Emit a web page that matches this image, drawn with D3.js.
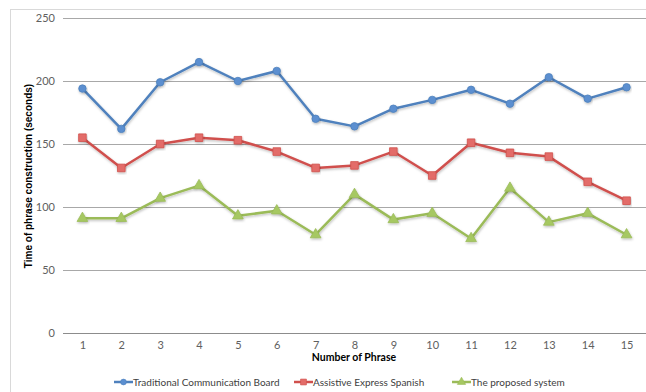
<!DOCTYPE html>
<html>
<head>
<meta charset="utf-8">
<script src="https://cdn.jsdelivr.net/npm/d3@7"></script>
<style>
  html, body { margin: 0; padding: 0; background: #fff; }
  svg { display: block; }
</style>
</head>
<body>
<svg id="chart" width="646" height="392"></svg>
<script>
// Phrase numbers along the x axis
const phrases = ["1","2","3","4","5","6","7","8","9","10","11","12","13","14","15"];
// Time of phrase construction (seconds) per system
const traditionalBoard = [194, 162, 199, 215, 200, 208, 170, 164, 178, 185, 193, 182, 203, 186, 195];
const assistiveExpress = [155, 131, 150, 155, 153, 144, 131, 133, 144, 125, 151, 143, 140, 120, 105];
const proposedSystem   = [91, 91, 107, 117, 93, 97, 78, 110, 90, 95, 75, 115, 88, 95, 78];
const yTicks = [0, 50, 100, 150, 200, 250];
const seriesNames = ["Traditional Communication Board", "Assistive Express Spanish", "The proposed system"];

const series = [
  { name: seriesNames[0], values: traditionalBoard, line: "#4F81BD", fill: "#5B8FD0", symbol: d3.symbolCircle, size: 44 },
  { name: seriesNames[1], values: assistiveExpress, line: "#D0504D", fill: "#E36C69", symbol: d3.symbolSquare, size: 58 },
  { name: seriesNames[2], values: proposedSystem,   line: "#9BBB59", fill: "#A6C862", symbol: d3.symbolTriangle, size: 50 }
];

const svg = d3.select("#chart");
const tickFont = "Lato, 'DejaVu Sans', sans-serif";

// Chart frame
svg.append("rect")
  .attr("x", 10.5).attr("y", 9.5)
  .attr("width", 660).attr("height", 400)
  .attr("fill", "#fff").attr("stroke", "#d9d9d9");

const x = d3.scalePoint().domain(phrases).range([63, 646]).padding(0.5);
const y = d3.scaleLinear().domain([0, 250]).range([333, 18]);

// Drop shadow for markers and lines
const defs = svg.append("defs");
const f = defs.append("filter").attr("id", "shadow").attr("x", "-20%").attr("y", "-20%").attr("width", "140%").attr("height", "160%");
f.append("feDropShadow").attr("dx", 0.6).attr("dy", 1.4).attr("stdDeviation", 0.9)
  .attr("flood-color", "#000").attr("flood-opacity", 0.25);

// Horizontal gridlines
svg.append("g")
  .selectAll("line")
  .data(yTicks.filter(d => d > 0))
  .join("line")
  .attr("x1", 63).attr("x2", 646)
  .attr("y1", d => Math.round(y(d)) + 0.5).attr("y2", d => Math.round(y(d)) + 0.5)
  .attr("stroke", "#a8a8a8").attr("stroke-width", 1);

// Category axis
const xAxis = svg.append("g")
  .attr("transform", `translate(0,${Math.round(y(0)) + 0.5})`)
  .call(d3.axisBottom(x).tickSize(0).tickPadding(8).tickFormat(d => d));
xAxis.select(".domain").attr("d", "M63,0H646").attr("stroke", "#8c8c8c");
xAxis.selectAll("text")
  .attr("font-family", tickFont).attr("font-size", 11).attr("fill", "#606060");

// Value axis
const yAxis = svg.append("g")
  .attr("transform", "translate(55,0)")
  .call(d3.axisLeft(y).tickValues(yTicks).tickSize(0).tickPadding(0));
yAxis.select(".domain").remove();
yAxis.selectAll("text")
  .attr("font-family", tickFont).attr("font-size", 11).attr("fill", "#606060");

// Axis titles
svg.append("text")
  .attr("transform", "translate(32,176) rotate(-90)")
  .attr("text-anchor", "middle")
  .attr("font-family", "'Liberation Sans', Arial, sans-serif")
  .attr("font-weight", "bold").attr("font-size", 10).attr("fill", "#000")
  .text("Time of phrase construction (seconds)");

svg.append("text")
  .attr("x", 354).attr("y", 361)
  .attr("text-anchor", "middle")
  .attr("font-family", tickFont)
  .attr("font-weight", "bold").attr("font-size", 10.5).attr("fill", "#000")
  .text("Number of Phrase");

// Series lines and markers
const line = d3.line().x((d, i) => x(phrases[i])).y(d => y(d));
const plot = svg.append("g");
series.forEach(s => {
  const g = plot.append("g");
  g.append("path")
    .datum(s.values)
    .attr("d", line)
    .attr("fill", "none")
    .attr("stroke", s.line)
    .attr("stroke-width", 2.5)
    .attr("stroke-linejoin", "round")
    .attr("filter", "url(#shadow)");
  g.selectAll("path.marker")
    .data(s.values)
    .join("path")
    .attr("class", "marker")
    .attr("transform", (d, i) => `translate(${x(phrases[i])},${y(d)})`)
    .attr("d", d3.symbol().type(s.symbol).size(s.size))
    .attr("fill", s.fill)
    .attr("stroke", s.line).attr("stroke-width", 0.8)
    .attr("filter", "url(#shadow)");
});

// Legend
const legendX = [114, 294, 452];
const legend = svg.append("g");
series.forEach((s, i) => {
  const lg = legend.append("g").attr("transform", `translate(${legendX[i]},382)`);
  lg.append("line").attr("x1", 0).attr("x2", 19).attr("y1", 0).attr("y2", 0)
    .attr("stroke", s.line).attr("stroke-width", 2.5);
  lg.append("path")
    .attr("transform", "translate(9.5,0)")
    .attr("d", d3.symbol().type(s.symbol).size(s.size * 0.6))
    .attr("fill", s.fill).attr("stroke", s.line).attr("stroke-width", 0.6);
  lg.append("text")
    .attr("x", 19).attr("y", 4)
    .attr("font-family", tickFont).attr("font-size", 10).attr("fill", "#404040")
    .text(s.name);
});
</script>
</body>
</html>
